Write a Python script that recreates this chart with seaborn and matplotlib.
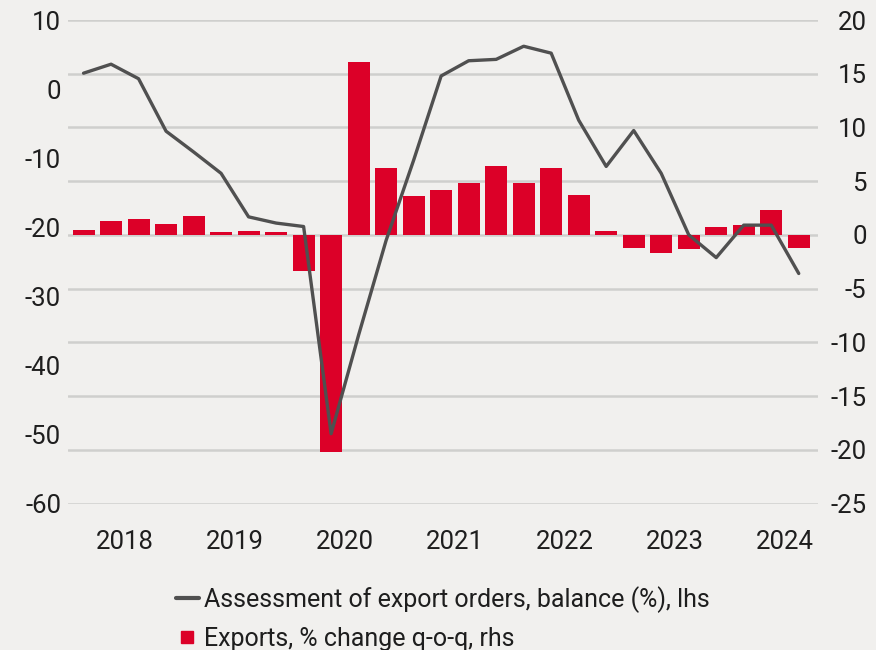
import matplotlib
matplotlib.use("Agg")
import matplotlib.pyplot as plt
from matplotlib.lines import Line2D
import seaborn as sns
import numpy as np
import pandas as pd

# ---- data ----
quarters = [f"{y}Q{q}" for y in range(2018, 2025) for q in range(1, 5)][:27]
export_orders = [2.3, 3.6, 1.5, -6.1, -9.1, -12.2, -18.5, -19.4,
                 -19.9, -49.9, -35.6, -21.9, -10.3, 1.9, 4.1, 4.3,
                 6.2, 5.2, -4.5, -11.2, -6.0, -12.2, -21.1, -24.4,
                 -19.7, -19.7, -26.7]
exports_qoq = [0.45, 1.3, 1.45, 1.05, 1.75, 0.25, 0.4, 0.25,
               -3.4, -20.2, 16.1, 6.2, 3.6, 4.2, 4.8, 6.45,
               4.85, 6.25, 3.75, 0.4, -1.25, -1.7, -1.35, 0.72,
               0.93, 2.33, -1.25]
years = ["2018", "2019", "2020", "2021", "2022", "2023", "2024"]
left_ticks = [-60, -50, -40, -30, -20, -10, 0, 10]
right_ticks = [-25, -20, -15, -10, -5, 0, 5, 10, 15, 20]

df = pd.DataFrame({"quarter": quarters,
                   "orders": export_orders,
                   "exports": exports_qoq})
df["pos"] = np.arange(len(df))

BG = "#f1f0ee"
RED = "#dc0028"
LINE = "#505050"
TXT = "#1e1e1e"

sns.set_style("white")
plt.rcParams["font.family"] = ["Roboto", "DejaVu Sans"]
plt.rcParams["axes.unicode_minus"] = False

fig = plt.figure(figsize=(8.76, 6.5), dpi=100, facecolor=BG)
W, H = 876, 650
ax2 = fig.add_axes([68 / W, 1 - 503.5 / H, 750 / W, 483.5 / H])
ax = ax2.twinx()
ax2.set_facecolor(BG)

# bars on right axis (behind)
sns.barplot(data=df, x="quarter", y="exports", color=RED, width=0.8,
            saturation=1, linewidth=0, ax=ax2, zorder=3)
ax2.set_ylim(right_ticks[0], right_ticks[-1])
ax2.set_yticks(right_ticks)
ax2.grid(axis="y", color="#cfcfcd", linewidth=1.8, zorder=0)
ax2.set_axisbelow(True)

# line on left axis (front)
sns.lineplot(data=df, x="pos", y="orders", color=LINE, linewidth=2.4, ax=ax,
             zorder=5)
ax.set_ylim(left_ticks[0], left_ticks[-1])
ax.set_yticks(left_ticks)
ax.set_zorder(ax2.get_zorder() + 1)
ax.patch.set_visible(False)

ax2.set_xlim(-0.565, 26.7)
ax.set_xlim(-0.565, 26.7)

# x ticks centred on each year
year_pos = [quarters.index(f"{y}Q1") + 1.5 for y in years]
ax2.set_xticks(year_pos)
ax2.set_xticklabels(years)

ax.yaxis.tick_left()
ax2.yaxis.tick_right()

for a in (ax, ax2):
    for s in a.spines.values():
        s.set_visible(False)
    a.set_xlabel("")
    a.set_ylabel("")
    a.tick_params(length=0, labelsize=18.5, colors=TXT)

ax.tick_params(axis="y", pad=5)
ax2.tick_params(axis="x", pad=19)
ax2.tick_params(axis="y", pad=35)
for lab in ax2.get_yticklabels():
    lab.set_horizontalalignment("right")
ax.tick_params(axis="x", labelbottom=False, labeltop=False)

handles = [Line2D([], [], color=LINE, linewidth=3),
           Line2D([], [], color=RED, marker="s", linestyle="", markersize=9)]
labels = ["Assessment of export orders, balance (%), lhs",
          "Exports, % change q-o-q, rhs"]
fig.legend(handles, labels, loc="upper left",
           bbox_to_anchor=(176 / W, 1 - 586 / H), frameon=False,
           fontsize=18, handlelength=0.9, handletextpad=0.2,
           labelspacing=0.55, borderpad=0, borderaxespad=0,
           labelcolor=TXT)

fig.savefig("out.png", dpi=100, facecolor=BG)
